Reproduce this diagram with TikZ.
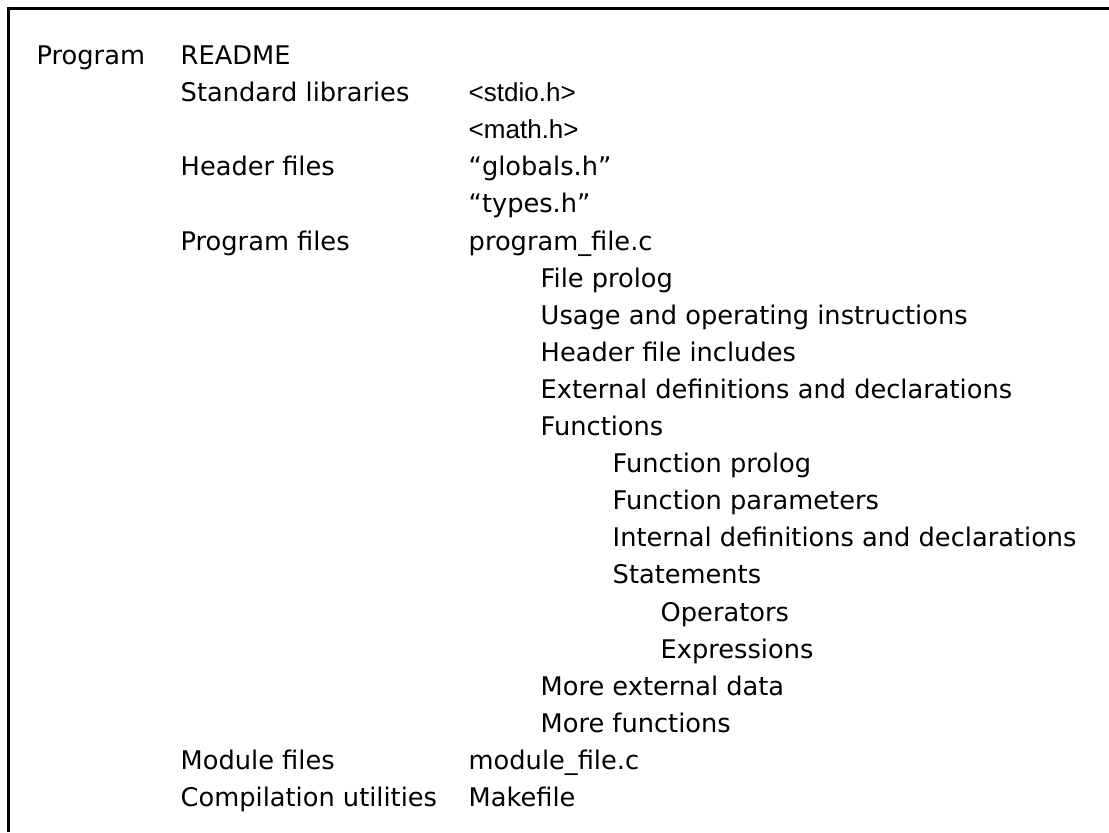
\documentclass[tikz,border=0pt]{standalone}
\usepackage{fontspec}
\setmainfont{DejaVu Sans}
\newfontfamily\hdrfont{Liberation Sans}
\usetikzlibrary{positioning}

\tikzset{
  item/.style={anchor=base west, inner sep=0pt, font=\fontsize{7.3pt}{8pt}\selectfont},
  sysinc/.style={item, font=\hdrfont\fontsize{7.4pt}{8pt}\selectfont},
  frameline/.style={line width=0.85pt}
}

\begin{document}
\begin{tikzpicture}[x=0.01cm,y=-0.01cm]
\useasboundingbox (0,0) rectangle (1109,832);

% frame
\coordinate (ftop) at (1109,8.5);
\coordinate (fbot) at (8.5,832);
\draw[frameline] (ftop) -| (fbot);

% first two columns
\node[item] (prog) at (36,64.5) {Program};
\node[item] (readme) at (180,64.5) {README};
\node[item] (stdlib) at (180,101.6) {Standard libraries};
\node[item] (hdr) at (180,175.8) {Header files};
\node[item] (progfiles) at (180,250.0) {Program files};
\node[item] (modfiles) at (180,769.4) {Module files};
\node[item] (comp) at (180,806.5) {Compilation utilities};

% file names
\node[sysinc] (stdio) at (468,101.6) {<stdio.h>};
\node[sysinc] (mathh) at (468,138.7) {<math.h>};
\node[item] (globals) at (468,175.8) {“globals.h”};
\node[item] (types) at (468,212.9) {“types.h”};
\node[item] (pfile) at (468,250.0) {program\_file.c};
\node[item] (mfile) at (468,769.4) {module\_file.c};
\node[item] (make) at (468,806.5) {Makefile};

% inside program_file.c
\node[item] (fprolog) at (540,287.1) {File prolog};
\node[item] (usage) at (540,324.2) {Usage and operating instructions};
\node[item] (incl) at (540,361.3) {Header file includes};
\node[item] (extdef) at (540,398.4) {External definitions and declarations};
\node[item] (funcs) at (540,435.5) {Functions};
\node[item] (moredata) at (540,695.2) {More external data};
\node[item] (morefuncs) at (540,732.3) {More functions};

% inside a function
\node[item] (fnprolog) at (612,472.6) {Function prolog};
\node[item] (fnparams) at (612,509.7) {Function parameters};
\node[item] (intdef) at (612,546.8) {Internal definitions and declarations};
\node[item] (stmts) at (612,583.9) {Statements};
\node[item] (ops) at (660,621.0) {Operators};
\node[item] (exprs) at (660,658.1) {Expressions};
\end{tikzpicture}
\end{document}
